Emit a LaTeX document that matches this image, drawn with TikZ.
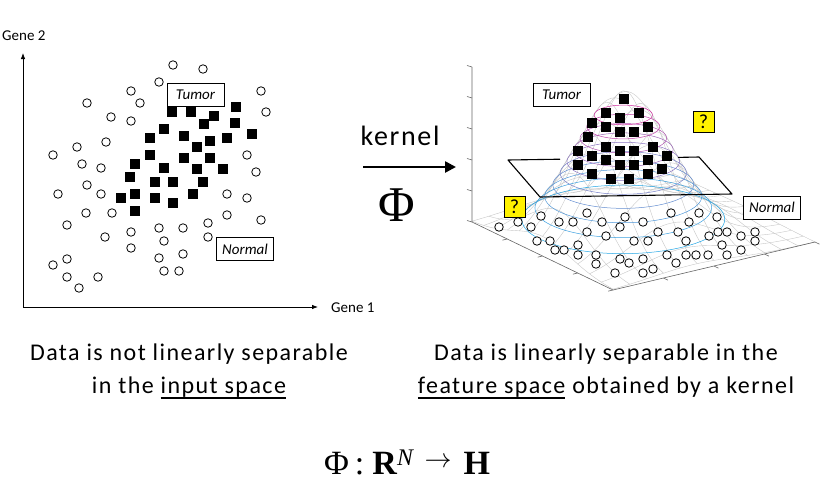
\documentclass[tikz,border=0pt]{standalone}
\usepackage{graphicx}
\usepackage{fontspec}
\setmainfont{Carlito}
\newfontfamily\capfont{Carlito}[LetterSpace=6]
\newfontfamily\timesfont{Liberation Serif}
\newcommand\ulword[1]{\setbox0\hbox{#1}\rlap{\rule[-5.6pt]{\wd0}{1.3pt}}\box0\relax}
\usetikzlibrary{arrows.meta}
\tikzset{
  normalpt/.style={circle, draw=black, fill=white, line width=0.8pt, minimum size=8.5pt, inner sep=0pt},
  tumorpt/.style={rectangle, fill=black, minimum size=10pt, inner sep=0pt},
  classbox/.style={draw=black, line width=0.8pt, fill=white, minimum width=57pt, minimum height=23pt, inner sep=1pt, font=\fontsize{15}{18}\selectfont\itshape},
  qbox/.style={draw=black, line width=0.8pt, fill=yellow, minimum width=21pt, minimum height=21pt, inner sep=0pt, font=\fontsize{20}{20}\selectfont},
  axislabel/.style={font=\fontsize{15}{18}\selectfont, anchor=base west, inner sep=0pt},
  meshline/.style={black!22, line width=0.4pt},
  boxaxis/.style={black!60, line width=0.6pt},
  caption/.style={font=\fontsize{24}{33}\capfont, align=center, anchor=base, inner sep=0pt},
}
\begin{document}
\begin{tikzpicture}[x=1pt, y=-1pt,
    declare function={bz(\uu,\vv)=145*exp(-((\uu-0.5)*(\uu-0.5)+(\vv-0.4)*(\vv-0.4))/0.08);
      px(\uu,\vv)=472+141*\uu+202*\vv;
      py(\uu,\vv)=222+68*\uu-48*\vv-bz(\uu,\vv);}]
\useasboundingbox (0,0) rectangle (822,482);

% input space
\coordinate (origin) at (23,307);
\coordinate (yend) at (23,53);
\coordinate (xend) at (318,307);
\draw[line width=0.8pt, -{Latex[length=6pt,width=4.5pt]}] (origin) -- (yend);
\draw[line width=0.8pt, -{Latex[length=6pt,width=4.5pt]}] (origin) -- (xend);
\node[axislabel] (genetwo) at (2,40) {Gene 2};
\node[axislabel] (geneone) at (331,312) {Gene 1};
\foreach \x/\y [count=\i] in {173/65,203/69,159/82,131/91,261/91,87/103,140/103,266/112,111/117,131/121,
    77/147,106/142,53/155,82/164,101/168,247/155,256/172,87/185,58/194,101/194,
    227/194,247/198,86/213,112/213,227/215,261/220,67/225,131/232,159/228,183/228,
    208/223,105/237,164/241,208/237,131/248,159/258,183/254,67/259,53/265,67/277,
    98/277,79/288,164/271,179/271}
  \node[normalpt] (nl\i) at (\x,\y) {};
\foreach \x/\y [count=\i] in {172/112,191/112,214/116,236/107,204/124,235/123,164/129,150/138,184/136,210/141,
    227/138,252/134,197/147,150/155,184/158,210/158,135/164,164/168,197/169,223/169,
    130/177,155/182,173/182,203/182,135/194,121/198,155/198,173/203,193/194,135/211}
  \node[tumorpt] (tl\i) at (\x,\y) {};
\node[classbox] (tumorL) at (195.5,94.5) {Tumor};
\node[classbox] (normalL) at (245,249) {Normal};

% kernel map
\node[font=\fontsize{28}{30}\capfont, anchor=base, inner sep=0pt] (kernel) at (400,145) {kernel};
\coordinate (mapS) at (363,167);
\coordinate (mapE) at (456,167);
\draw[line width=2.5pt, -{Triangle[length=11pt,width=11pt]}] (mapS) -- (mapE);
\node[font=\fontsize{50}{50}\timesfont, anchor=base, inner sep=0pt] (phi) at (397,221) {Φ};

% feature space: mesh of the bump
\foreach \i in {0,...,12}{
  \draw[meshline] plot[domain=0:1, samples=41, variable=\t, smooth] ({px(\i/12,\t)},{py(\i/12,\t)});
  \draw[meshline] plot[domain=0:1, samples=41, variable=\t, smooth] ({px(\t,\i/12)},{py(\t,\i/12)});
}
% contours
\foreach \w in {0.12,0.2,...,0.92}{
  \pgfmathsetmacro\crad{0.2*sqrt(-2*ln(\w))}
  \pgfmathsetmacro\cmix{100*\w}
  \draw[magenta!\cmix!cyan, line width=0.5pt] plot[domain=0:360, samples=73, variable=\a, smooth]
    ({px(0.5+\crad*cos(\a),0.4+\crad*sin(\a))},{py(0.5+\crad*cos(\a),0.4+\crad*sin(\a))});
}
% axes of the box
\coordinate (ztop) at (472,67);
\coordinate (zbot) at (472,222);
\coordinate (fcorner) at (613,290);
\coordinate (rcorner) at (815,242);
\draw[boxaxis] (ztop) -- (zbot) -- (fcorner) -- (rcorner);
\foreach \k in {0,...,5}
  \draw[boxaxis] (472,{222-31*\k}) -- ++(-5,-1.5);
\foreach \k in {0.25,0.5,0.75,1}{
  \draw[boxaxis] ({472+141*\k},{222+68*\k}) -- ++(-4.9,1.2);
  \draw[boxaxis] ({613+202*\k},{290-48*\k}) -- ++(4.5,2.2);
}
% separating plane
\coordinate (pa) at (508,160);
\coordinate (pb) at (540,197);
\coordinate (pc) at (732,194);
\coordinate (pd) at (699,157);
\coordinate (pe) at (678,157.4);
\coordinate (pf) at (560,159.2);
\draw[line width=1.1pt, line join=round] (pf) -- (pa) -- (pb) -- (pc) -- (pd) -- (pe);

\foreach \x/\y [count=\i] in {499/227,518/222,531/227,541/216,559/222,573/222,587/213,602/222,625/217,620/227,
    643/222,671/213,699/213,717/217,689/222,587/232,606/236,537/241,550/241,555/250,
    564/250,578/245,578/255,596/255,596/264,634/241,648/241,658/232,678/232,686/241,
    709/236,718/232,727/232,741/236,755/232,755/241,741/250,722/245,727/255,708/255,
    696/255,686/255,667/255,676/263,643/259,629/263,620/259,643/273,653/269,615/273}
  \node[normalpt] (nr\i) at (\x,\y) {};
\foreach \x/\y [count=\i] in {624/99,606/113,620/118,639/113,592/123,606/127,620/132,634/132,648/127,588/137,
    578/151,592/156,606/147,620/151,634/151,653/147,667/156,578/165,606/160,620/165,
    634/165,648/160,662/169,592/174,611/179,629/179,648/174}
  \node[tumorpt] (tr\i) at (\x,\y) {};
\node[classbox] (tumorR) at (561.5,95) {Tumor};
\node[classbox] (normalR) at (772,207.5) {Normal};
\node[qbox] (qa) at (703.5,122) {?};
\node[qbox] (qb) at (514.5,206.5) {?};

% captions
\node[caption] (captionL) at (189,393) {Data is not linearly separable\\in the \ulword{input space}};
\node[caption] (captionR) at (606,393) {Data is linearly separable in the\\\ulword{feature space} obtained by a kernel};
\node[font=\fontsize{34}{34}\timesfont, anchor=base, inner sep=0pt] (formula) at (407,474.5)
  {\raisebox{0pt}[\height][0pt]{Φ\hspace{6pt}:\hspace{8pt}\textbf{R}\textsuperscript{\itshape N}\hspace{11pt}\raisebox{7pt}{\resizebox{27pt}{!}{$\rightarrow$}}\hspace{12pt}\textbf{H}}};
\end{tikzpicture}
\end{document}
